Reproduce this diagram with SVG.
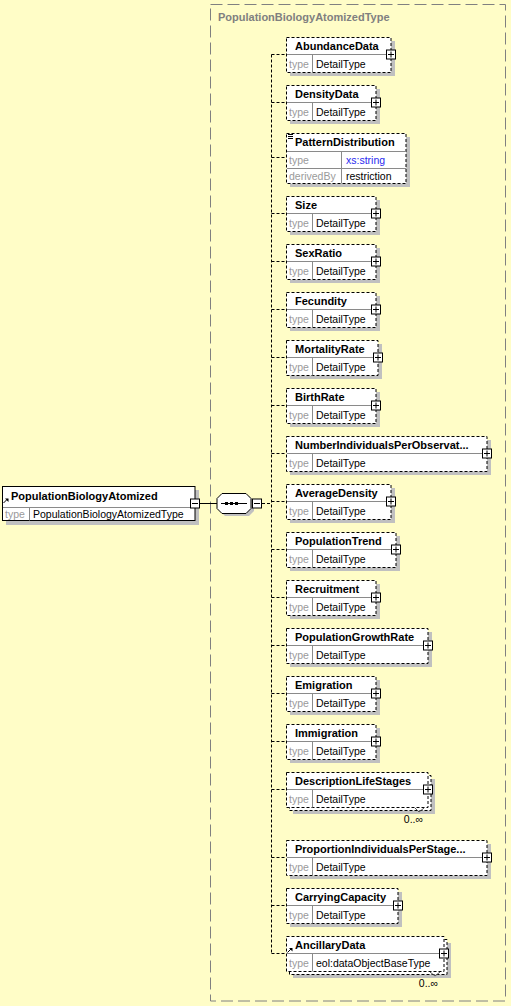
<svg xmlns="http://www.w3.org/2000/svg" xmlns:xlink="http://www.w3.org/1999/xlink" width="511" height="1006" viewBox="0 0 511 1006">
  <style>
    .bg { fill: #FFFDC7; }
    .frame { fill: none; stroke: #808080; stroke-width: 1; stroke-dasharray: 12,5; }
    .title { font: bold 11px "Liberation Sans", Arial, sans-serif; fill: #808080; }
    .sh { fill: #c0c0c0; }
    .bx { fill: #ffffff; stroke: #000; stroke-width: 1; stroke-dasharray: 3,2; }
    .bxs { fill: #ffffff; stroke: #000; stroke-width: 1; }
    .dv { stroke: #8a8a8a; stroke-width: 1; fill: none; }
    .nm { font: bold 11px "Liberation Sans", Arial, sans-serif; fill: #000; }
    .lb { font: 10.5px "Liberation Sans", Arial, sans-serif; fill: #9a9a9a; }
    .tv { font: 10.5px "Liberation Sans", Arial, sans-serif; fill: #000; }
    .tb { font: 10.5px "Liberation Sans", Arial, sans-serif; fill: #2a2af0; }
    .occ { font: 10.5px "Liberation Sans", Arial, sans-serif; fill: #000; text-anchor: end; }
    .cn { stroke: #000; stroke-width: 1; fill: none; }
    .cd { stroke: #000; stroke-width: 1; fill: none; stroke-dasharray: 3,2; }
    .mk { stroke: #555; stroke-width: 1; fill: none; }
  </style>
  <defs>
    <g id="plus">
      <rect x="-4.5" y="-4.5" width="9" height="9" fill="#fff" stroke="#000"/>
      <path d="M-3,0 H3 M0,-3 V3" stroke="#000" fill="none"/>
    </g>
    <g id="minus">
      <rect x="-4.5" y="-4.5" width="9" height="9" fill="#fff" stroke="#000"/>
      <path d="M-3,0 H3" stroke="#000" fill="none"/>
    </g>
    <g id="refarrow">
      <path d="M0.5,4.5 L4,1" stroke="#000" fill="none"/>
      <polygon points="2,0 5.5,0 5.5,3.5" fill="#000"/>
    </g>
  </defs>

  <rect class="bg" x="0" y="0" width="511" height="1006"/>

  <!-- complex type frame -->
  <g id="type-frame">
    <rect class="frame" x="210.5" y="4.5" width="295" height="996.5"/>
    <text class="title" x="218" y="21">PopulationBiologyAtomizedType</text>
  </g>

  <!-- connectors -->
  <g id="connectors">
    <line class="cn" x1="199" y1="503.5" x2="217" y2="503.5"/>
    <line class="cd" x1="262" y1="503.5" x2="271.5" y2="503.5"/>
    <line class="cd" x1="271.5" y1="54.5" x2="271.5" y2="953.5"/>
    <path class="cd" d="M271.5,54.5H286 M271.5,102.5H286 M271.5,157.5H286 M271.5,213.5H286 M271.5,261.5H286 M271.5,309.5H286 M271.5,357.5H286 M271.5,405.5H286 M271.5,453.5H286 M271.5,501.5H286 M271.5,549.5H286 M271.5,597.5H286 M271.5,645.5H286 M271.5,693.5H286 M271.5,741.5H286 M271.5,789.5H286 M271.5,857.5H286 M271.5,905.5H286 M271.5,953.5H286"/>
  </g>

  <!-- root element -->
  <g id="n-root">
    <rect class="sh" x="6" y="490" width="193" height="35"/>
    <rect class="bxs" x="2.5" y="486.5" width="192.5" height="34"/>
    <line class="dv" x1="3" y1="507.5" x2="195" y2="507.5"/>
    <line class="dv" x1="29.5" y1="507.5" x2="29.5" y2="520.5"/>
    <use xlink:href="#refarrow" x="3" y="498.5"/>
    <text class="nm" x="11" y="500">PopulationBiologyAtomized</text>
    <text class="lb" x="5" y="518">type</text>
    <text class="tv" x="33" y="518">PopulationBiologyAtomizedType</text>
    <use xlink:href="#minus" x="195" y="503.5"/>
  </g>

  <!-- sequence compositor -->
  <g id="n-sequence">
    <path class="sh" d="M225,496 H249 L254,501 V511 L249,516 H225 L220,511 V501 Z"/>
    <path class="bxs" d="M222,493.5 H246 L251,498.5 V508.5 L246,513.5 H222 L217,508.5 V498.5 Z"/>
    <line class="cn" x1="221" y1="503.5" x2="247" y2="503.5"/>
    <rect x="225" y="502" width="3" height="3" fill="#000"/>
    <rect x="230" y="502" width="3" height="3" fill="#000"/>
    <rect x="235" y="502" width="3" height="3" fill="#000"/>
    <use xlink:href="#minus" x="257" y="503.5"/>
  </g>

  <g id="n-abundance">
    <rect class="sh" x="290" y="41" width="105" height="35"/>
    <rect class="bx" x="286.5" y="37.5" width="104.5" height="35"/>
    <line class="dv" x1="287" y1="54.5" x2="391" y2="54.5"/>
    <line class="dv" x1="312.5" y1="54.5" x2="312.5" y2="72.5"/>
    <text class="nm" x="295" y="50">AbundanceData</text>
    <text class="lb" x="289" y="68">type</text>
    <text class="tv" x="316" y="68">DetailType</text>
    <use xlink:href="#plus" x="391" y="54.5"/>
  </g>

  <g id="n-density">
    <rect class="sh" x="290" y="89" width="90" height="35"/>
    <rect class="bx" x="286.5" y="85.5" width="89.5" height="35"/>
    <line class="dv" x1="287" y1="102.5" x2="376" y2="102.5"/>
    <line class="dv" x1="312.5" y1="102.5" x2="312.5" y2="120.5"/>
    <text class="nm" x="295" y="98">DensityData</text>
    <text class="lb" x="289" y="116">type</text>
    <text class="tv" x="316" y="116">DetailType</text>
    <use xlink:href="#plus" x="376" y="102.5"/>
  </g>

  <g id="n-pattern">
    <rect class="sh" x="290" y="137" width="120" height="50"/>
    <rect class="bx" x="286.5" y="133.5" width="119.5" height="50"/>
    <line class="dv" x1="287" y1="151.5" x2="406" y2="151.5"/>
    <line class="dv" x1="287" y1="168.5" x2="406" y2="168.5"/>
    <line class="dv" x1="341.5" y1="151.5" x2="341.5" y2="183.5"/>
    <path d="M288,134.5H293 M288,136.5H293 M288,138.5H293" stroke="#000" fill="none"/>
    <text class="nm" x="295" y="146">PatternDistribution</text>
    <text class="lb" x="289" y="164">type</text>
    <text class="tb" x="346" y="164">xs:string</text>
    <text class="lb" x="289" y="180">derivedBy</text>
    <text class="tv" x="346" y="180">restriction</text>
  </g>

  <g id="n-size">
    <rect class="sh" x="290" y="200" width="90" height="35"/>
    <rect class="bx" x="286.5" y="196.5" width="89.5" height="35"/>
    <line class="dv" x1="287" y1="213.5" x2="376" y2="213.5"/>
    <line class="dv" x1="312.5" y1="213.5" x2="312.5" y2="231.5"/>
    <text class="nm" x="295" y="209">Size</text>
    <text class="lb" x="289" y="227">type</text>
    <text class="tv" x="316" y="227">DetailType</text>
    <use xlink:href="#plus" x="376" y="213.5"/>
  </g>

  <g id="n-sexratio">
    <rect class="sh" x="290" y="248" width="90" height="35"/>
    <rect class="bx" x="286.5" y="244.5" width="89.5" height="35"/>
    <line class="dv" x1="287" y1="261.5" x2="376" y2="261.5"/>
    <line class="dv" x1="312.5" y1="261.5" x2="312.5" y2="279.5"/>
    <text class="nm" x="295" y="257">SexRatio</text>
    <text class="lb" x="289" y="275">type</text>
    <text class="tv" x="316" y="275">DetailType</text>
    <use xlink:href="#plus" x="376" y="261.5"/>
  </g>

  <g id="n-fecundity">
    <rect class="sh" x="290" y="296" width="90" height="35"/>
    <rect class="bx" x="286.5" y="292.5" width="89.5" height="35"/>
    <line class="dv" x1="287" y1="309.5" x2="376" y2="309.5"/>
    <line class="dv" x1="312.5" y1="309.5" x2="312.5" y2="327.5"/>
    <text class="nm" x="295" y="305">Fecundity</text>
    <text class="lb" x="289" y="323">type</text>
    <text class="tv" x="316" y="323">DetailType</text>
    <use xlink:href="#plus" x="376" y="309.5"/>
  </g>

  <g id="n-mortality">
    <rect class="sh" x="290" y="344" width="92" height="35"/>
    <rect class="bx" x="286.5" y="340.5" width="91.5" height="35"/>
    <line class="dv" x1="287" y1="357.5" x2="378" y2="357.5"/>
    <line class="dv" x1="312.5" y1="357.5" x2="312.5" y2="375.5"/>
    <text class="nm" x="295" y="353">MortalityRate</text>
    <text class="lb" x="289" y="371">type</text>
    <text class="tv" x="316" y="371">DetailType</text>
    <use xlink:href="#plus" x="378" y="357.5"/>
  </g>

  <g id="n-birthrate">
    <rect class="sh" x="290" y="392" width="90" height="35"/>
    <rect class="bx" x="286.5" y="388.5" width="89.5" height="35"/>
    <line class="dv" x1="287" y1="405.5" x2="376" y2="405.5"/>
    <line class="dv" x1="312.5" y1="405.5" x2="312.5" y2="423.5"/>
    <text class="nm" x="295" y="401">BirthRate</text>
    <text class="lb" x="289" y="419">type</text>
    <text class="tv" x="316" y="419">DetailType</text>
    <use xlink:href="#plus" x="376" y="405.5"/>
  </g>

  <g id="n-numberindividuals">
    <rect class="sh" x="290" y="440" width="201" height="35"/>
    <rect class="bx" x="286.5" y="436.5" width="200.5" height="35"/>
    <line class="dv" x1="287" y1="453.5" x2="487" y2="453.5"/>
    <line class="dv" x1="312.5" y1="453.5" x2="312.5" y2="471.5"/>
    <text class="nm" x="295" y="449">NumberIndividualsPerObservat...</text>
    <text class="lb" x="289" y="467">type</text>
    <text class="tv" x="316" y="467">DetailType</text>
    <use xlink:href="#plus" x="487" y="453.5"/>
  </g>

  <g id="n-avgdensity">
    <rect class="sh" x="290" y="488" width="105" height="35"/>
    <rect class="bx" x="286.5" y="484.5" width="104.5" height="35"/>
    <line class="dv" x1="287" y1="501.5" x2="391" y2="501.5"/>
    <line class="dv" x1="312.5" y1="501.5" x2="312.5" y2="519.5"/>
    <text class="nm" x="295" y="497">AverageDensity</text>
    <text class="lb" x="289" y="515">type</text>
    <text class="tv" x="316" y="515">DetailType</text>
    <use xlink:href="#plus" x="391" y="501.5"/>
  </g>

  <g id="n-poptrend">
    <rect class="sh" x="290" y="536" width="110" height="35"/>
    <rect class="bx" x="286.5" y="532.5" width="109.5" height="35"/>
    <line class="dv" x1="287" y1="549.5" x2="396" y2="549.5"/>
    <line class="dv" x1="312.5" y1="549.5" x2="312.5" y2="567.5"/>
    <text class="nm" x="295" y="545">PopulationTrend</text>
    <text class="lb" x="289" y="563">type</text>
    <text class="tv" x="316" y="563">DetailType</text>
    <use xlink:href="#plus" x="396" y="549.5"/>
  </g>

  <g id="n-recruitment">
    <rect class="sh" x="290" y="584" width="90" height="35"/>
    <rect class="bx" x="286.5" y="580.5" width="89.5" height="35"/>
    <line class="dv" x1="287" y1="597.5" x2="376" y2="597.5"/>
    <line class="dv" x1="312.5" y1="597.5" x2="312.5" y2="615.5"/>
    <text class="nm" x="295" y="593">Recruitment</text>
    <text class="lb" x="289" y="611">type</text>
    <text class="tv" x="316" y="611">DetailType</text>
    <use xlink:href="#plus" x="376" y="597.5"/>
  </g>

  <g id="n-growthrate">
    <rect class="sh" x="290" y="632" width="142" height="35"/>
    <rect class="bx" x="286.5" y="628.5" width="141.5" height="35"/>
    <line class="dv" x1="287" y1="645.5" x2="428" y2="645.5"/>
    <line class="dv" x1="312.5" y1="645.5" x2="312.5" y2="663.5"/>
    <text class="nm" x="295" y="641">PopulationGrowthRate</text>
    <text class="lb" x="289" y="659">type</text>
    <text class="tv" x="316" y="659">DetailType</text>
    <use xlink:href="#plus" x="428" y="645.5"/>
  </g>

  <g id="n-emigration">
    <rect class="sh" x="290" y="680" width="90" height="35"/>
    <rect class="bx" x="286.5" y="676.5" width="89.5" height="35"/>
    <line class="dv" x1="287" y1="693.5" x2="376" y2="693.5"/>
    <line class="dv" x1="312.5" y1="693.5" x2="312.5" y2="711.5"/>
    <text class="nm" x="295" y="689">Emigration</text>
    <text class="lb" x="289" y="707">type</text>
    <text class="tv" x="316" y="707">DetailType</text>
    <use xlink:href="#plus" x="376" y="693.5"/>
  </g>

  <g id="n-immigration">
    <rect class="sh" x="290" y="728" width="90" height="35"/>
    <rect class="bx" x="286.5" y="724.5" width="89.5" height="35"/>
    <line class="dv" x1="287" y1="741.5" x2="376" y2="741.5"/>
    <line class="dv" x1="312.5" y1="741.5" x2="312.5" y2="759.5"/>
    <text class="nm" x="295" y="737">Immigration</text>
    <text class="lb" x="289" y="755">type</text>
    <text class="tv" x="316" y="755">DetailType</text>
    <use xlink:href="#plus" x="376" y="741.5"/>
  </g>

  <!-- repeating element: stacked boxes -->
  <g id="n-lifestages">
    <rect class="sh" x="293" y="779" width="142" height="35"/>
    <rect class="bx" x="289.5" y="775.5" width="141.5" height="35"/>
    <rect class="bx" x="286.5" y="772.5" width="141.5" height="35"/>
    <line class="dv" x1="287" y1="789.5" x2="428" y2="789.5"/>
    <line class="dv" x1="312.5" y1="789.5" x2="312.5" y2="807.5"/>
    <text class="nm" x="295" y="785">DescriptionLifeStages</text>
    <text class="lb" x="289" y="803">type</text>
    <text class="tv" x="316" y="803">DetailType</text>
    <use xlink:href="#plus" x="428" y="789.5"/>
    <polyline class="mk" points="415,808 419,812 424,808"/>
    <text class="occ" x="423" y="823">0..∞</text>
  </g>

  <g id="n-proportion">
    <rect class="sh" x="290" y="844" width="201" height="35"/>
    <rect class="bx" x="286.5" y="840.5" width="200.5" height="35"/>
    <line class="dv" x1="287" y1="857.5" x2="487" y2="857.5"/>
    <line class="dv" x1="312.5" y1="857.5" x2="312.5" y2="875.5"/>
    <text class="nm" x="295" y="853">ProportionIndividualsPerStage...</text>
    <text class="lb" x="289" y="871">type</text>
    <text class="tv" x="316" y="871">DetailType</text>
    <use xlink:href="#plus" x="487" y="857.5"/>
  </g>

  <g id="n-carrying">
    <rect class="sh" x="290" y="892" width="112" height="35"/>
    <rect class="bx" x="286.5" y="888.5" width="111.5" height="35"/>
    <line class="dv" x1="287" y1="905.5" x2="398" y2="905.5"/>
    <line class="dv" x1="312.5" y1="905.5" x2="312.5" y2="923.5"/>
    <text class="nm" x="295" y="901">CarryingCapacity</text>
    <text class="lb" x="289" y="919">type</text>
    <text class="tv" x="316" y="919">DetailType</text>
    <use xlink:href="#plus" x="398" y="905.5"/>
  </g>

  <g id="n-ancillary">
    <rect class="sh" x="293" y="943" width="158" height="35"/>
    <rect class="bx" x="289.5" y="939.5" width="157.5" height="35"/>
    <rect class="bx" x="286.5" y="936.5" width="157.5" height="35"/>
    <line class="dv" x1="287" y1="953.5" x2="444" y2="953.5"/>
    <line class="dv" x1="312.5" y1="953.5" x2="312.5" y2="971.5"/>
    <use xlink:href="#refarrow" x="287" y="948"/>
    <text class="nm" x="295" y="949">AncillaryData</text>
    <text class="lb" x="289" y="967">type</text>
    <text class="tv" x="316" y="967">eol:dataObjectBaseType</text>
    <use xlink:href="#plus" x="444" y="953.5"/>
    <polyline class="mk" points="430,972 435,976 440,972"/>
    <text class="occ" x="438" y="987">0..∞</text>
  </g>
</svg>
